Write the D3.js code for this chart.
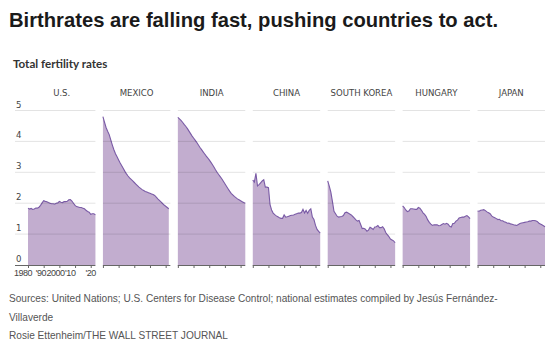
<!DOCTYPE html>
<html>
<head>
<meta charset="utf-8">
<script src="https://cdn.jsdelivr.net/npm/d3@7"></script>
<style>
  body { margin: 0; background: #fff; }
  svg { display: block; }
  .title { font-family: "Liberation Sans", Arial, sans-serif; font-weight: bold; font-size: 20.2px; fill: #1a1a1a; }
  .subtitle { font-family: Lato, "Noto Sans", sans-serif; font-weight: bold; font-size: 11.6px; fill: #333; }
  .panel-title { font-family: "Liberation Sans Narrow", "DejaVu Sans Condensed", sans-serif; font-size: 9.5px; fill: #444; }
  .tick-label { font-family: "Liberation Sans Narrow", "DejaVu Sans Condensed", sans-serif; font-size: 9.5px; fill: #444; }
  .axis .tick-label { font-family: "Liberation Sans", Arial, sans-serif; font-size: 9px; letter-spacing: -0.45px; }
  .note { font-family: "Liberation Sans", Arial, sans-serif; font-size: 10.1px; fill: #555; }
</style>
</head>
<body>
<svg id="chart" width="558" height="351"></svg>
<script>
// Data (total fertility rate, births per woman)
const countries = ["U.S.", "MEXICO", "INDIA", "CHINA", "SOUTH KOREA", "HUNGARY", "JAPAN"];
const startYear = 1980;

const usRates = [1.84, 1.81, 1.83, 1.80, 1.81, 1.84, 1.84, 1.87, 1.93, 2.01, 2.08, 2.06, 2.05, 2.02, 2.00, 1.98, 1.98, 1.97, 2.00, 2.01, 2.06, 2.03, 2.02, 2.05, 2.05, 2.06, 2.11, 2.12, 2.07, 2.00, 1.93, 1.89, 1.88, 1.86, 1.86, 1.84, 1.82, 1.77, 1.73, 1.71, 1.64, 1.66, 1.66, 1.62];
const mexicoRates = [4.80, 4.62, 4.45, 4.33, 4.22, 4.05, 3.88, 3.73, 3.60, 3.50, 3.40, 3.30, 3.21, 3.12, 3.03, 2.95, 2.88, 2.82, 2.77, 2.72, 2.67, 2.62, 2.57, 2.52, 2.48, 2.44, 2.41, 2.38, 2.36, 2.34, 2.32, 2.30, 2.28, 2.25, 2.20, 2.14, 2.09, 2.04, 1.99, 1.94, 1.90, 1.86, 1.82];
const indiaRates = [4.78, 4.73, 4.68, 4.62, 4.55, 4.49, 4.42, 4.34, 4.26, 4.18, 4.11, 4.04, 3.97, 3.89, 3.81, 3.74, 3.67, 3.60, 3.53, 3.47, 3.40, 3.33, 3.25, 3.17, 3.08, 3.00, 2.93, 2.86, 2.79, 2.71, 2.63, 2.55, 2.47, 2.39, 2.32, 2.27, 2.22, 2.18, 2.14, 2.11, 2.08, 2.05, 2.02, 2.00];
const chinaRates = [2.75, 2.68, 2.97, 2.56, 2.60, 2.66, 2.72, 2.76, 2.52, 2.52, 2.50, 1.95, 1.78, 1.68, 1.63, 1.59, 1.56, 1.53, 1.51, 1.51, 1.62, 1.55, 1.56, 1.58, 1.60, 1.61, 1.62, 1.64, 1.66, 1.68, 1.68, 1.70, 1.80, 1.68, 1.77, 1.67, 1.77, 1.82, 1.55, 1.47, 1.28, 1.15, 1.09, 1.03];
const koreaRates = [2.72, 2.55, 2.36, 2.06, 1.74, 1.66, 1.58, 1.55, 1.56, 1.57, 1.60, 1.69, 1.71, 1.68, 1.65, 1.62, 1.57, 1.52, 1.46, 1.42, 1.44, 1.31, 1.18, 1.19, 1.16, 1.09, 1.13, 1.22, 1.19, 1.15, 1.23, 1.24, 1.28, 1.21, 1.21, 1.24, 1.17, 1.05, 0.98, 0.92, 0.84, 0.81, 0.78, 0.72];
const hungaryRates = [1.91, 1.86, 1.78, 1.73, 1.75, 1.82, 1.82, 1.81, 1.80, 1.80, 1.86, 1.84, 1.77, 1.69, 1.64, 1.57, 1.46, 1.38, 1.32, 1.28, 1.30, 1.30, 1.30, 1.27, 1.28, 1.31, 1.34, 1.32, 1.35, 1.32, 1.25, 1.23, 1.34, 1.35, 1.42, 1.45, 1.52, 1.54, 1.55, 1.55, 1.58, 1.60, 1.56, 1.50];
const japanRates = [1.75, 1.74, 1.77, 1.78, 1.79, 1.76, 1.72, 1.69, 1.66, 1.59, 1.55, 1.53, 1.50, 1.47, 1.48, 1.43, 1.43, 1.40, 1.38, 1.35, 1.36, 1.33, 1.32, 1.30, 1.29, 1.28, 1.31, 1.34, 1.36, 1.37, 1.38, 1.39, 1.40, 1.42, 1.42, 1.44, 1.44, 1.43, 1.41, 1.36, 1.33, 1.30, 1.27, 1.24];

const yTicks = [0, 1, 2, 3, 4, 5];
const xTicks = [1980, 1990, 2000, 2010, 2020];
const xTickLabels = ["1980", "'90", "2000", "'10", "'20"];

const series = [usRates, mexicoRates, indiaRates, chinaRates, koreaRates, hungaryRates, japanRates];

const svg = d3.select("#chart");

// Titles
svg.append("text").attr("class", "title").attr("x", 9).attr("y", 27)
    .text("Birthrates are falling fast, pushing countries to act.");
svg.append("text").attr("class", "subtitle").attr("x", 13).attr("y", 68)
    .text("Total fertility rates");

// Scales
const panel = d3.scaleBand().domain(countries).range([28, 545]).paddingInner(0.1).paddingOuter(0);
const y = d3.scaleLinear().domain([0, 5]).range([265, 110.5]);
const x = d3.scaleLinear().domain([1980, 2023]).range([0, panel.bandwidth()]);

const area = d3.area().x((d, i) => x(startYear + i)).y0(y(0)).y1(d => y(d));
const line = d3.line().x((d, i) => x(startYear + i)).y(d => y(d));

// small nudges so the crowded year labels sit like the original
const labelShift = [-5.5, -3.2, -4.3, -5.3, -0.6];

countries.forEach((name, k) => {
    const g = svg.append("g").attr("transform", `translate(${panel(name)},0)`);
    const gridLeft = k === 0 ? 15 - panel(name) : 0;

    g.append("path").datum(series[k]).attr("d", area).attr("fill", "#c2adcf");
    g.append("path").datum(series[k]).attr("d", line)
        .attr("fill", "none").attr("stroke", "#7a5ba6").attr("stroke-width", 1.1);

    // gridlines on top of the areas
    g.append("g").selectAll("line")
        .data(yTicks.filter(t => t > 0))
        .join("line")
        .attr("x1", gridLeft).attr("x2", panel.bandwidth())
        .attr("y1", d => y(d)).attr("y2", d => y(d))
        .attr("stroke", "#000").attr("stroke-opacity", 0.11).attr("stroke-width", 1);

    // baseline with ticks
    const axis = g.append("g").attr("class", "axis").attr("transform", `translate(0,${y(0)})`)
        .call(d3.axisBottom(x).tickValues(xTicks).tickSize(3).tickSizeOuter(0)
            .tickFormat((d, i) => k === 0 ? xTickLabels[i] : ""));
    axis.select(".domain").attr("stroke", "#666").attr("d", `M${gridLeft},0.5H${panel.bandwidth()}`);
    axis.selectAll(".tick line").attr("stroke", "#666");
    axis.selectAll(".tick text").attr("class", "tick-label").attr("y", 5).attr("dy", "0.71em")
        .attr("dx", (d, i) => labelShift[i]);

    g.append("text").attr("class", "panel-title")
        .attr("x", panel.bandwidth() / 2).attr("y", 96)
        .attr("text-anchor", "middle").text(name);

    if (k === 0) {
        g.append("g").selectAll("text")
            .data(yTicks)
            .join("text")
            .attr("class", "tick-label")
            .attr("x", gridLeft + 1).attr("y", d => y(d) - 3)
            .text(d => d);
    }
});

// Footer notes
const notes = [
    "Sources: United Nations; U.S. Centers for Disease Control; national estimates compiled by Jesús Fernández-",
    "Villaverde",
    "Rosie Ettenheim/THE WALL STREET JOURNAL"
];
svg.append("g").selectAll("text")
    .data(notes)
    .join("text")
    .attr("class", "note")
    .attr("x", 9).attr("y", (d, i) => 302 + i * 18.5)
    .text(d => d);
</script>
</body>
</html>
